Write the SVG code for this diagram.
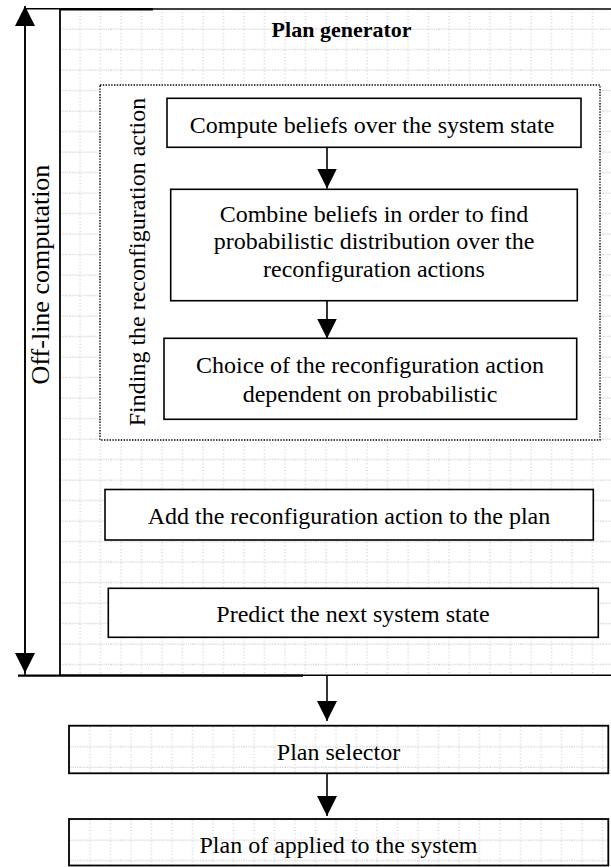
<svg xmlns="http://www.w3.org/2000/svg" width="611" height="867" viewBox="0 0 611 867">
<defs>
<style>
.grid{stroke:#bdbdbd;stroke-width:1;fill:none}
.gh{stroke-dasharray:1 1.2}
.gv{stroke-dasharray:1 2.5}
.box{fill:#fff;stroke:#000;stroke-width:1.6}
.gbox{stroke:#000;stroke-width:1.8}
.dbox{fill:#fff;stroke:#000;stroke-width:1.4;stroke-dasharray:1.4 1.4}
.t{font-family:"Liberation Serif","Times New Roman",serif;font-size:24px;fill:#000;text-anchor:middle}
.conn{stroke:#000;stroke-width:1.6;fill:none}
.edge{stroke:#000;fill:none}
</style>
<pattern id="gMain" patternUnits="userSpaceOnUse" x="70" y="19" width="20.5" height="20.5">
<path class="grid gh" d="M0,10 H20.5"/>
<path class="grid gv" d="M10,0 V20.5"/>
</pattern>
<pattern id="gSel" patternUnits="userSpaceOnUse" x="80" y="736.7" width="20.5" height="20.5">
<path class="grid gh" d="M0,10 H20.5"/>
<path class="grid gv" d="M10,0 V20.5"/>
</pattern>
<pattern id="gApp" patternUnits="userSpaceOnUse" x="80" y="830" width="20.5" height="20.5">
<path class="grid gh" d="M0,10 H20.5"/>
<path class="grid gv" d="M10,0 V20.5"/>
</pattern>
<marker id="ah" markerUnits="userSpaceOnUse" markerWidth="20" markerHeight="20" viewBox="0 0 20 20" refX="20" refY="10" orient="auto">
<path d="M0,0 L20,10 L0,20 Z" fill="#000"/>
</marker>
</defs>
<rect width="611" height="867" fill="#fff"/>

<g id="plan-generator">
<rect x="60" y="9" width="560" height="666.5" fill="url(#gMain)"/>
<path class="edge" stroke-width="1.8" d="M60,9 V676"/>
<path class="edge" stroke-width="1.5" d="M60,9 H611"/>
<path class="edge" stroke-width="1.4" d="M60,675.2 H611"/>
<text class="t" x="411.5" y="37" style="font-weight:bold;font-size:22px;text-anchor:end">Plan generator</text>
</g>

<g id="finding-action">
<rect class="dbox" x="100" y="85" width="500" height="355"/>
<text class="t" transform="translate(145,262) rotate(-90)">Finding the reconfiguration action</text>
</g>

<g id="compute-beliefs">
<rect class="box" x="167" y="98.3" width="414" height="49"/>
<text class="t" x="372" y="133">Compute beliefs over the system state</text>
</g>

<g id="combine-beliefs">
<rect class="box" x="170.7" y="189.3" width="406.6" height="111.4"/>
<text class="t" x="374" y="221.7">Combine beliefs in order to find</text>
<text class="t" x="374" y="249.3">probabilistic distribution over the</text>
<text class="t" x="374" y="276.7">reconfiguration actions</text>
</g>

<g id="choice-action">
<rect class="box" x="164" y="338.3" width="412.7" height="81"/>
<text class="t" x="370" y="372.7">Choice of the reconfiguration action</text>
<text class="t" x="370" y="401.7">dependent on probabilistic</text>
</g>

<g id="add-action">
<rect class="box" x="105" y="489.5" width="488.3" height="50.5"/>
<text class="t" x="349" y="524">Add the reconfiguration action to the plan</text>
</g>

<g id="predict-state">
<rect class="box" x="108.3" y="588.3" width="490" height="49"/>
<text class="t" x="353" y="621.7">Predict the next system state</text>
</g>

<g id="off-line">
<text class="t" transform="translate(48.5,274.5) rotate(-90)" style="font-size:26px">Off-line computation</text>
</g>

<g id="plan-selector">
<rect class="gbox" x="69" y="725.7" width="539.3" height="47.6" fill="url(#gSel)"/>
<text class="t" x="338.5" y="760">Plan selector</text>
</g>

<g id="plan-applied">
<rect class="gbox" x="69" y="819" width="539.3" height="46.5" fill="url(#gApp)"/>
<text class="t" x="338.5" y="852.7">Plan of applied to the system</text>
</g>

<g id="connectors">
<path class="edge" stroke-width="1.4" d="M25,8.8 H153"/>
<path class="edge" stroke-width="2" d="M60,9.4 H153"/>
<path class="edge" stroke-width="2.2" d="M18,675.6 H303"/>
<path class="conn" d="M25,675 V6" marker-end="url(#ah)"/>
<path class="conn" d="M25,9 V673" marker-end="url(#ah)"/>
<path class="conn" d="M327,147.3 V188.5" marker-end="url(#ah)"/>
<path class="conn" d="M327,300.7 V338.5" marker-end="url(#ah)"/>
<path class="conn" d="M327,676 V721" marker-end="url(#ah)"/>
<path class="conn" d="M327,773.3 V816" marker-end="url(#ah)"/>
</g>
</svg>
